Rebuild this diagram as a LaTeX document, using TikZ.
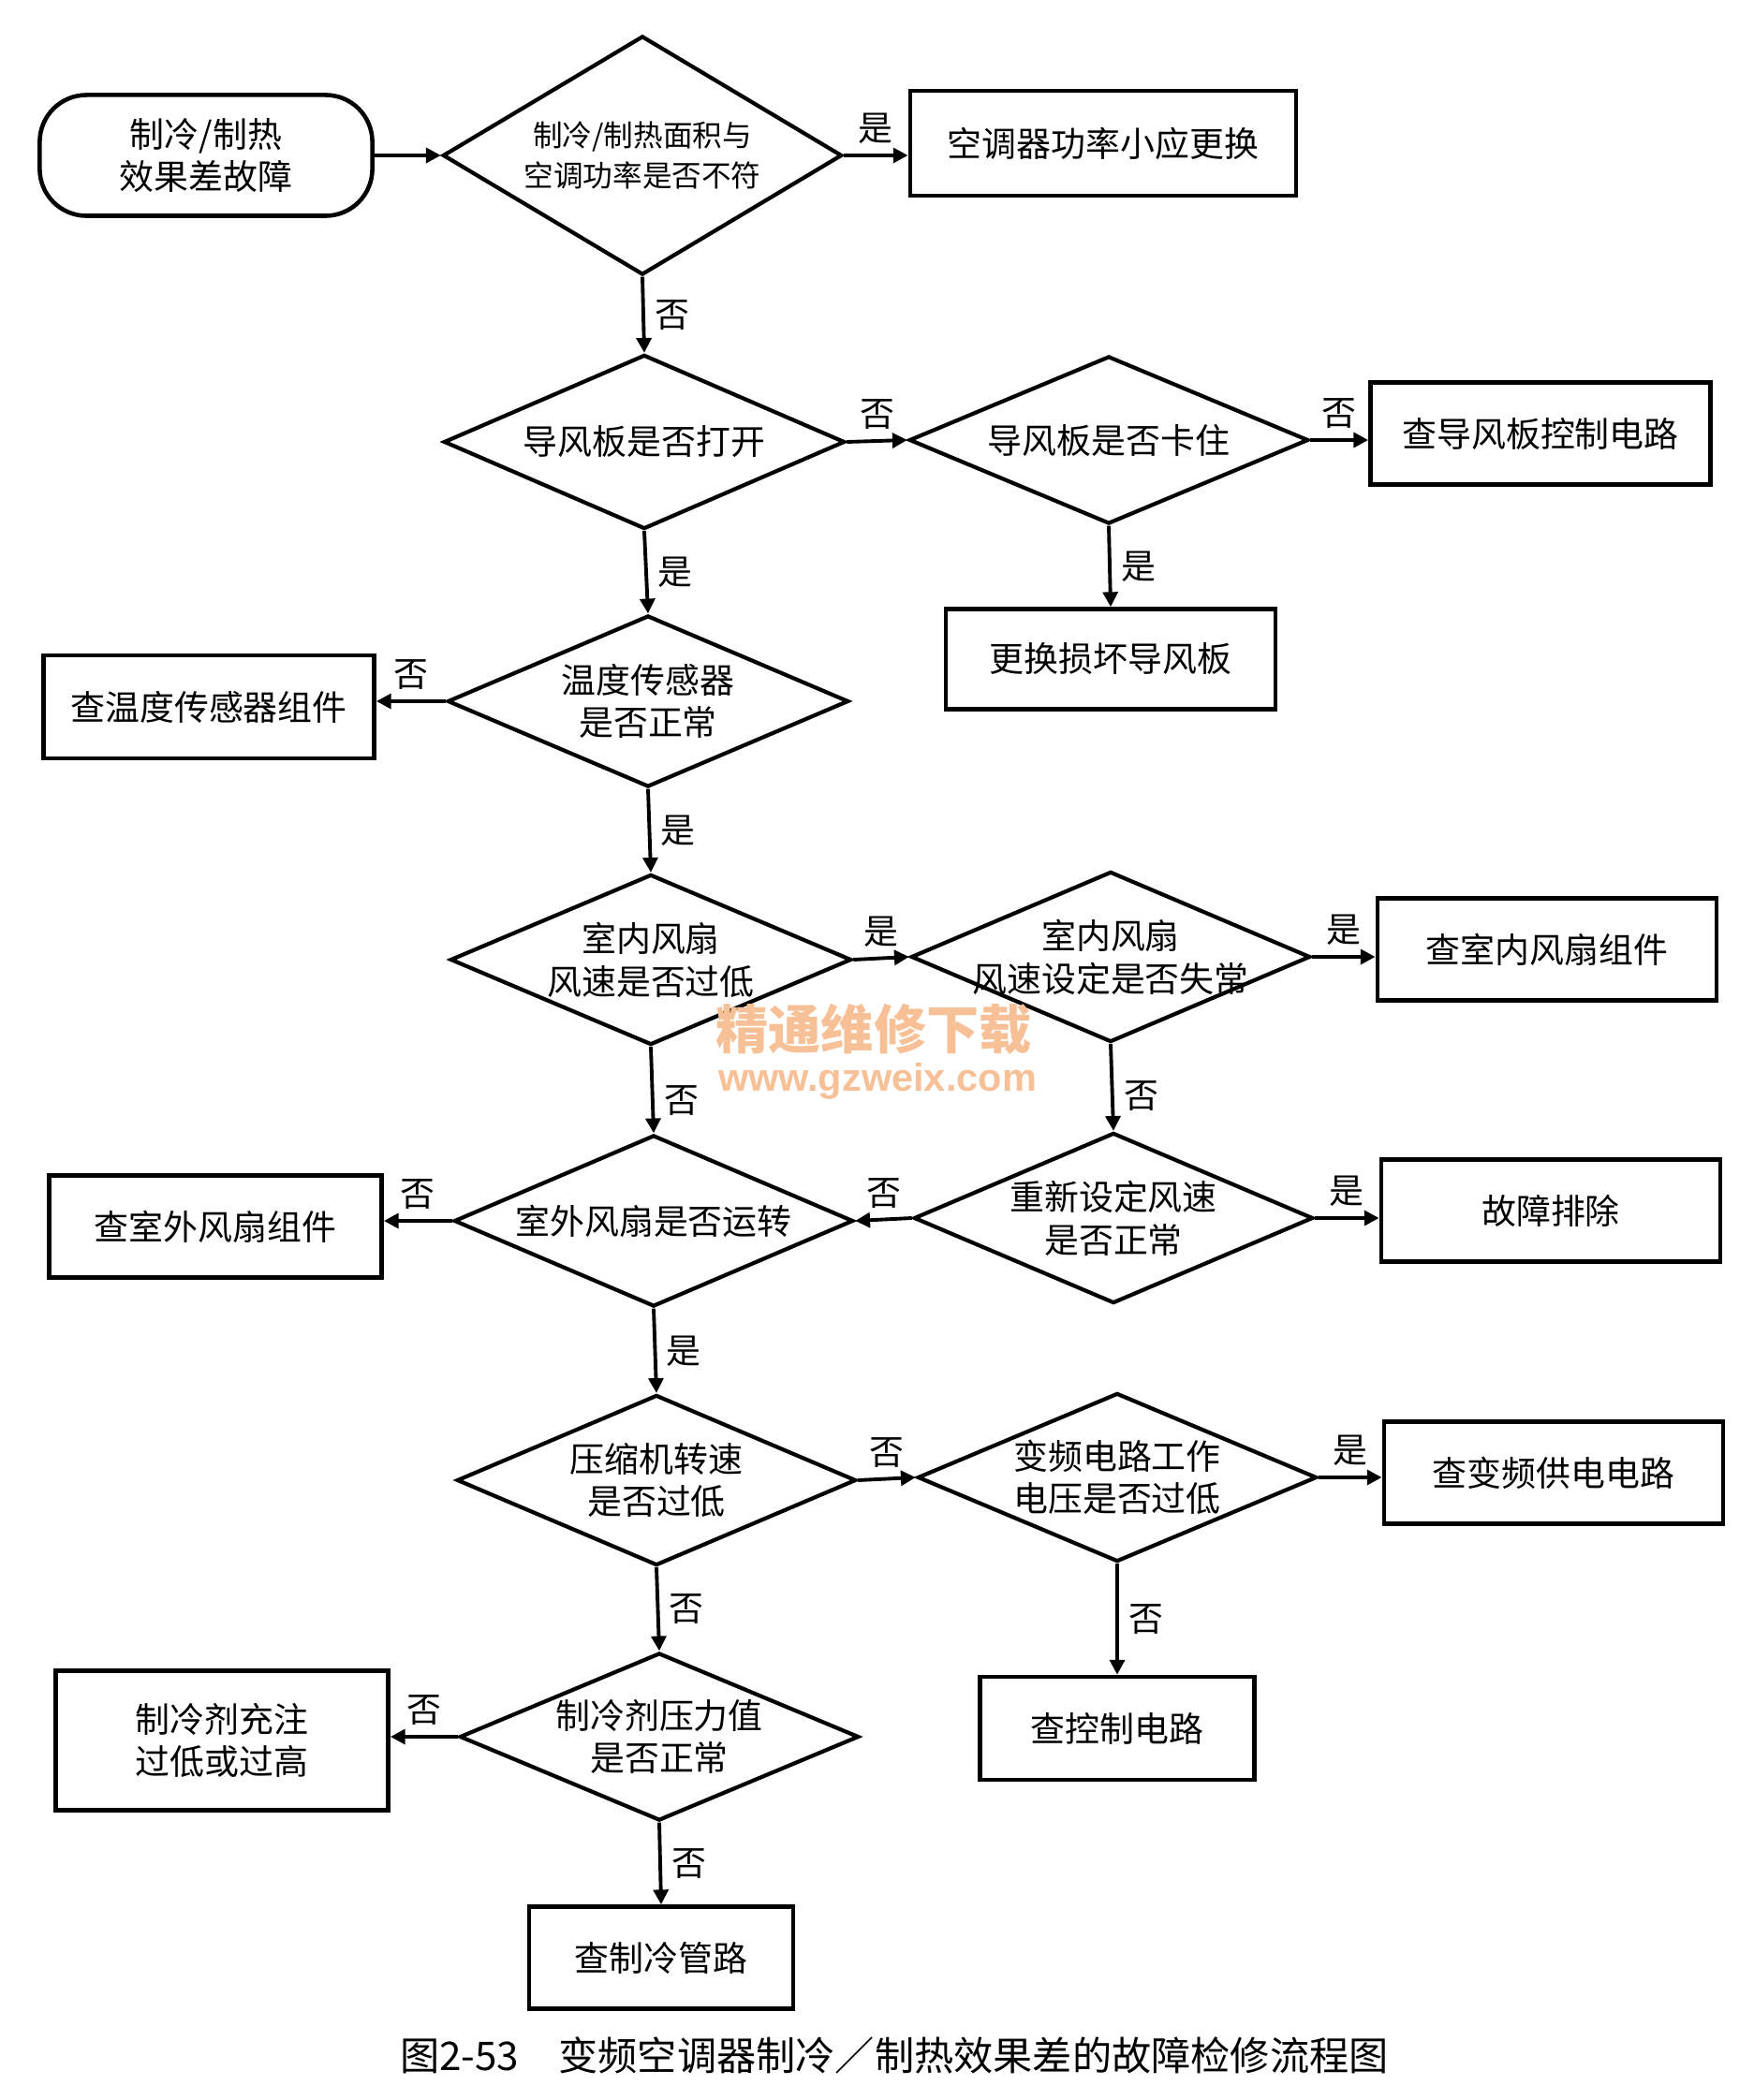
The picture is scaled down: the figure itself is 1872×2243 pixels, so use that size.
\documentclass[tikz,border=0pt]{standalone}
\usepackage{fontspec}
\setmainfont{Noto Sans CJK SC}
\newfontfamily\urlfont{Liberation Sans}
\usepackage{tikz}
\usetikzlibrary{arrows.meta, shapes.geometric}

\definecolor{wmorange}{RGB}{247,192,150}

\tikzset{
    txt/.style={align=center, font=\fontsize{10.5}{13}\selectfont},
    box/.style={draw, line width=1.3pt, txt, inner sep=2pt, minimum height=1.09cm},
    dia/.style={diamond, draw, line width=1.2pt, inner sep=0pt,
        minimum width=4.26cm, minimum height=1.82cm},
    flow/.style={-{Triangle[length=4.5pt,width=4.5pt]}, line width=1.1pt},
    lab/.style={font=\fontsize{10.5}{13}\selectfont, inner sep=3pt},
}

\begin{document}
\begin{tikzpicture}[x=0.01cm, y=-0.01cm]
    \useasboundingbox (0,0) rectangle (1872,2243);

    % Start and first check
    \node[box, rounded corners=0.5cm, minimum width=3.55cm, minimum height=1.29cm] (start) at (220,166) {制冷/制热\\效果差故障};
    \node[dia, minimum width=4.26cm, minimum height=2.55cm,
        label={[txt, font=\fontsize{9}{12.5}\selectfont]center:制冷/制热面积与\\空调功率是否不符}] (d1) at (686,166) {};
    \node[box, minimum width=4.12cm, minimum height=1.12cm] (b1) at (1178,153) {空调器功率小应更换};

    % Air deflector
    \node[dia, minimum width=4.28cm, minimum height=1.86cm, label={[txt]center:导风板是否打开}] (d2) at (688,472) {};
    \node[dia, minimum height=1.79cm, label={[txt]center:导风板是否卡住}] (d3) at (1184,470) {};
    \node[box, minimum width=3.63cm] (b2) at (1645,463) {查导风板控制电路};
    \node[box, minimum width=3.52cm, minimum height=1.07cm] (b3) at (1186,704) {更换损坏导风板};

    % Temperature sensor
    \node[dia, minimum width=4.28cm, minimum height=1.83cm, label={[txt]center:温度传感器\\是否正常}] (d4) at (692,749) {};
    \node[box, minimum width=3.53cm, minimum height=1.10cm] (b4) at (223,755) {查温度传感器组件};

    % Indoor and outdoor fans
    \node[dia, minimum width=4.28cm, label={[txt]center:室内风扇\\风速是否过低}] (d5) at (695,1025) {};
    \node[dia, label={[txt]center:室内风扇\\风速设定是否失常}] (d6) at (1186,1022) {};
    \node[box, minimum width=3.62cm] (b5) at (1652,1014) {查室内风扇组件};
    \node[dia, minimum height=1.83cm, label={[txt]center:室外风扇是否运转}] (d7) at (698,1304) {};
    \node[dia, label={[txt]center:重新设定风速\\是否正常}] (d8) at (1189,1301) {};
    \node[box, minimum width=3.55cm] (b6) at (230,1310) {查室外风扇组件};
    \node[box, minimum width=3.62cm] (b7) at (1656,1293) {故障排除};

    % Compressor and inverter
    \node[dia, label={[txt]center:压缩机转速\\是否过低}] (d9) at (701,1581) {};
    \node[dia, minimum height=1.80cm, label={[txt]center:变频电路工作\\电压是否过低}] (d10) at (1193,1578) {};
    \node[box, minimum width=3.62cm] (b8) at (1659,1573) {查变频供电电路};

    % Refrigerant
    \node[dia, minimum height=1.79cm, label={[txt]center:制冷剂压力值\\是否正常}] (d11) at (704,1855) {};
    \node[box, minimum width=3.55cm, minimum height=1.49cm] (b9) at (237,1859) {制冷剂充注\\过低或过高};
    \node[box, minimum width=2.93cm, minimum height=1.10cm] (b10) at (1193,1846) {查控制电路};
    \node[box, minimum width=2.82cm] (b11) at (706,2091) {查制冷管路};

    % Connectors
    \draw[flow] (start.east) -- (d1.west);
    \draw[flow] (d1.east) -- node[lab, above] {是} (d1.east -| b1.west);
    \draw[flow] (d1.south) -- node[lab, right] {否} (d2.north);
    \draw[flow] (d2.east) -- node[lab, above] {否} (d3.west);
    \draw[flow] (d3.east) -- node[lab, above] {否} (d3.east -| b2.west);
    \draw[flow] (d3.south) -- node[lab, right] {是} (b3.north);
    \draw[flow] (d2.south) -- node[lab, right] {是} (d4.north);
    \draw[flow] (d4.west) -- node[lab, above] {否} (d4.west -| b4.east);
    \draw[flow] (d4.south) -- node[lab, right] {是} (d5.north);
    \draw[flow] (d5.east) -- node[lab, above] {是} (d6.west);
    \draw[flow] (d6.east) -- node[lab, above] {是} (d6.east -| b5.west);
    \draw[flow] (d5.south) -- node[lab, right, pos=0.62] {否} (d7.north);
    \draw[flow] (d6.south) -- node[lab, right, pos=0.6] {否} (d8.north);
    \draw[flow] (d8.west) -- node[lab, above] {否} (d7.east);
    \draw[flow] (d7.west) -- node[lab, above] {否} (d7.west -| b6.east);
    \draw[flow] (d8.east) -- node[lab, above] {是} (d8.east -| b7.west);
    \draw[flow] (d7.south) -- node[lab, right] {是} (d9.north);
    \draw[flow] (d9.east) -- node[lab, above] {否} (d10.west);
    \draw[flow] (d10.east) -- node[lab, above] {是} (d10.east -| b8.west);
    \draw[flow] (d9.south) -- node[lab, right] {否} (d11.north);
    \draw[flow] (d10.south) -- node[lab, right] {否} (b10.north);
    \draw[flow] (d11.west) -- node[lab, above] {否} (d11.west -| b9.east);
    \draw[flow] (d11.south) -- node[lab, right] {否} (b11.north);

    % Watermark and caption
    \node[text=wmorange, font=\fontsize{16}{17}\bfseries, inner sep=0pt] (wm) at (933,1099) {精通维修下载};
    \node[text=wmorange, font=\urlfont\fontsize{11.8}{12}\bfseries, inner sep=0pt] (wmurl) at (937,1155) {www.gzweix.com};
    \node[font=\fontsize{12}{14}\selectfont] (caption) at (955,2195) {图2-53\quad 变频空调器制冷／制热效果差的故障检修流程图};
\end{tikzpicture}
\end{document}
